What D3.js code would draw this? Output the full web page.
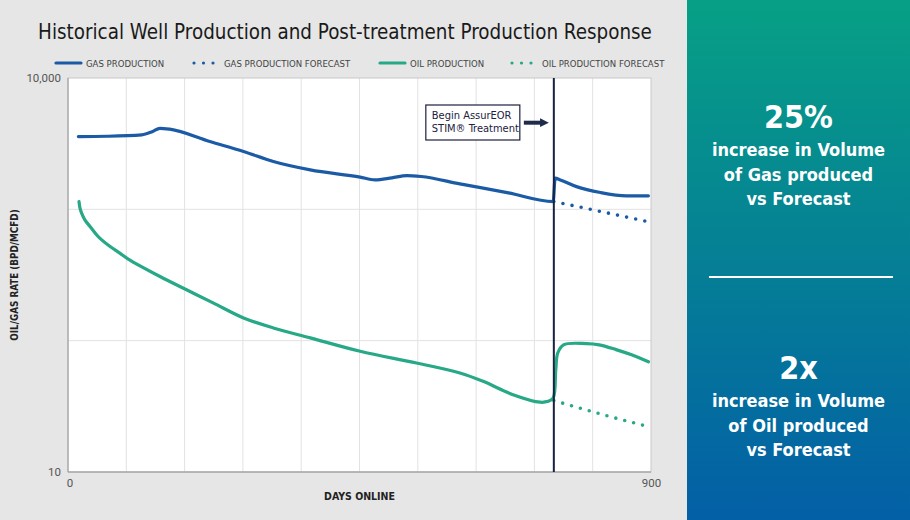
<!DOCTYPE html>
<html><head><meta charset="utf-8">
<script src="https://cdn.jsdelivr.net/npm/d3@7"></script>
<style>
body{margin:0;background:#e6e6e6;}
svg{display:block;}
</style></head>
<body><svg id="c" width="910" height="520"></svg>
<script>
// ---- data ----
const gasDays   = [16, 60, 114, 130, 142, 157, 219, 271, 317, 374, 451, 474, 500, 523, 545, 605, 680, 749, 752, 760, 785, 822, 862, 896];
const gasValues = [3581, 3600, 3690, 3900, 4140, 4075, 3281, 2754, 2312, 1996, 1758, 1675, 1738, 1807, 1778, 1563, 1334, 1146, 1726, 1675, 1489, 1343, 1268, 1268];
const gasForecastDays   = [750, 825, 900];
const gasForecastValues = [1146, 957, 795];
const oilDays   = [17, 18.5, 21, 26, 34, 42, 49, 65, 80, 93, 142, 183, 224, 271, 317, 374, 451, 538, 605, 641, 687, 729, 741, 749, 753, 756, 765, 800, 820, 846, 870, 896];
const oilValues = [1145, 1020, 935, 832, 740, 659, 604, 521, 464, 418, 308, 244, 194, 149, 125, 105, 83, 67.6, 56.8, 49, 38.8, 34, 34.5, 36.6, 60, 80.5, 93, 95, 93, 85.5, 78, 69];
const oilForecastDays   = [750, 825, 900];
const oilForecastValues = [35, 27.4, 21.9];
const treatmentDay = 750;
const xDomain = [0, 900];
const yDomain = [10, 10000];
const xTickValues = [0, 90, 180, 270, 360, 450, 540, 630, 720, 810, 900];
const xTickLabels = ["0", "900"];
const yTickValues = [10, 100, 1000, 10000];
const yTickLabels = ["10", "10,000"];
const legendLabels = ["GAS PRODUCTION", "GAS PRODUCTION FORECAST", "OIL PRODUCTION", "OIL PRODUCTION FORECAST"];
const title = "Historical Well Production and Post-treatment Production Response";
const panelBig = ["25%", "2x"];
const panelLines = [["increase in Volume", "of Gas produced", "vs Forecast"], ["increase in Volume", "of Oil produced", "vs Forecast"]];

// ---- layout ----
const COND = "'DejaVu Sans Condensed','Liberation Sans Narrow',sans-serif";
const ROBO = "Roboto,'Noto Sans',sans-serif";
const GAS = "#1b5ba6", OIL = "#27a886", NAVY = "#1b2140";
const svg = d3.select("#c");
const L = 68, R = 651, T = 78, B = 472;
const x = d3.scaleLinear().domain(xDomain).range([L, R]);
const y = d3.scaleLog().domain(yDomain).range([B, T]);

svg.append("rect").attr("width", 910).attr("height", 520).attr("fill", "#e6e6e6");

// title
svg.append("text").attr("x", 345).attr("y", 39).attr("text-anchor", "middle").style("font-family", COND)
  .attr("font-size", 20.4).attr("fill", "#1a1a1a").text(title);

// plot bg
svg.append("rect").attr("x", L).attr("y", T).attr("width", R - L).attr("height", B - T).attr("fill", "#fff");

// grid
svg.append("g").selectAll("line").data(xTickValues.slice(1, -1)).join("line")
  .attr("x1", d => x(d)).attr("x2", d => x(d)).attr("y1", T).attr("y2", B)
  .attr("stroke", "#e2e2e2").attr("stroke-width", 1);
svg.append("g").selectAll("line").data(yTickValues.slice(1, -1)).join("line")
  .attr("x1", L).attr("x2", R).attr("y1", d => y(d)).attr("y2", d => y(d))
  .attr("stroke", "#e2e2e2").attr("stroke-width", 1);

// frame
svg.append("rect").attr("x", L).attr("y", T).attr("width", R - L).attr("height", B - T)
  .attr("fill", "none").attr("stroke", "#c8c8c8").attr("stroke-width", 1);
svg.append("line").attr("x1", L).attr("x2", L).attr("y1", T).attr("y2", B).attr("stroke", "#a8a8a8").attr("stroke-width", 1.3);
svg.append("line").attr("x1", L).attr("x2", R).attr("y1", B).attr("y2", B).attr("stroke", "#a8a8a8").attr("stroke-width", 1.3);

// axes (labels only)
const yAxis = d3.axisLeft(y).tickValues([yTickValues[0], yTickValues[3]])
  .tickFormat(d => d === 10 ? yTickLabels[0] : yTickLabels[1]).tickSize(0).tickPadding(7);
const yg = svg.append("g").attr("transform", `translate(${L},0)`).call(yAxis);
yg.select(".domain").remove();
yg.selectAll("text").attr("font-size", 11.5).attr("fill", "#555").style("font-family", ROBO);

const xAxis = d3.axisBottom(x).tickValues([xDomain[0], xDomain[1]])
  .tickFormat((d, i) => xTickLabels[i]).tickSize(0).tickPadding(7);
const xg = svg.append("g").attr("transform", `translate(0,${B})`).call(xAxis);
xg.select(".domain").remove();
xg.selectAll("text").attr("font-size", 11.5).attr("fill", "#555").style("font-family", ROBO);
xg.selectAll(".tick").filter(d => d === 0).attr("transform", `translate(${x(0) + 2},0)`);

svg.append("text").attr("x", (L + R) / 2).attr("y", 500).attr("text-anchor", "middle").style("font-family", COND)
  .attr("font-size", 10.5).attr("font-weight", "bold").attr("fill", "#222").text("DAYS ONLINE");
svg.append("text").attr("transform", `translate(18,${(T + B) / 2}) rotate(-90)`).attr("text-anchor", "middle").style("font-family", COND)
  .attr("font-size", 9.8).attr("font-weight", "bold").attr("fill", "#222").text("OIL/GAS RATE (BPD/MCFD)");

// lines
const gasLine = d3.line().x(d => x(d[0])).y(d => y(d[1])).curve(d3.curveMonotoneX);
const oilLine = d3.line().x(d => x(d[0])).y(d => y(d[1])).curve(d3.curveCatmullRom.alpha(0.5));
const zip = (a, b) => a.map((d, i) => [d, b[i]]);
const defs = svg.append("defs");
defs.append("clipPath").attr("id", "pc").append("rect").attr("x", L).attr("y", T).attr("width", R - L).attr("height", B - T);
const pg = svg.append("g").attr("clip-path", "url(#pc)");

pg.append("path").datum(zip(gasForecastDays, gasForecastValues)).attr("d", gasLine)
  .attr("fill", "none").attr("stroke", GAS).attr("stroke-width", 3.6).attr("stroke-linecap", "round").attr("stroke-dasharray", "0 9.3");
pg.append("path").datum(zip(oilForecastDays, oilForecastValues)).attr("d", gasLine)
  .attr("fill", "none").attr("stroke", OIL).attr("stroke-width", 3.6).attr("stroke-linecap", "round").attr("stroke-dasharray", "0 9.2");
pg.append("path").datum(zip(gasDays, gasValues)).attr("d", gasLine)
  .attr("fill", "none").attr("stroke", GAS).attr("stroke-width", 3.2).attr("stroke-linecap", "round");
pg.append("path").datum(zip(oilDays, oilValues)).attr("d", oilLine)
  .attr("fill", "none").attr("stroke", OIL).attr("stroke-width", 3.2).attr("stroke-linecap", "round");

// treatment line
svg.append("line").attr("x1", x(treatmentDay)).attr("x2", x(treatmentDay)).attr("y1", T).attr("y2", B)
  .attr("stroke", NAVY).attr("stroke-width", 2);

// annotation
const ax = x(treatmentDay);
svg.append("rect").attr("x", ax - 128).attr("y", 105).attr("width", 94).attr("height", 35)
  .attr("fill", "#fff").attr("stroke", NAVY).attr("stroke-width", 1.2);
const at = svg.append("text").attr("font-size", 11).attr("fill", NAVY).style("font-family", COND);
at.append("tspan").attr("x", ax - 122).attr("y", 119).text("Begin AssurEOR");
at.append("tspan").attr("x", ax - 122).attr("y", 132).text("STIM® Treatment");
defs.append("marker").attr("id", "ah").attr("viewBox", "0 0 10 10").attr("refX", 2).attr("refY", 5)
  .attr("markerWidth", 2.2).attr("markerHeight", 2.6).attr("orient", "auto")
  .append("path").attr("d", "M0,0L10,5L0,10Z").attr("fill", "#1f2b4a");
svg.append("line").attr("x1", ax - 30).attr("x2", ax - 12).attr("y1", 122.7).attr("y2", 122.7)
  .attr("stroke", "#1f2b4a").attr("stroke-width", 4).attr("marker-end", "url(#ah)");

// legend
const lg = svg.append("g").attr("font-size", 9.5).attr("fill", "#444").style("font-family", COND);
const legendX = [56, 194, 380, 512];
legendLabels.forEach((lab, i) => {
  const c = i < 2 ? GAS : OIL;
  const gx = legendX[i];
  if (i % 2 === 0) {
    lg.append("line").attr("x1", gx).attr("x2", gx + 25).attr("y1", 63).attr("y2", 63)
      .attr("stroke", c).attr("stroke-width", 3.2).attr("stroke-linecap", "round");
  } else {
    lg.append("line").attr("x1", gx).attr("x2", gx + 19.6).attr("y1", 63).attr("y2", 63)
      .attr("stroke", c).attr("stroke-width", 3.2).attr("stroke-linecap", "round").attr("stroke-dasharray", "0 9.5");
  }
  lg.append("text").attr("x", gx + 30).attr("y", 66.5).text(lab);
});

// right panel
const grad = defs.append("linearGradient").attr("id", "pgr").attr("x1", 0).attr("x2", 0).attr("y1", 0).attr("y2", 1);
grad.append("stop").attr("offset", 0).attr("stop-color", "#07a085");
grad.append("stop").attr("offset", 1).attr("stop-color", "#035fa6");
svg.append("rect").attr("x", 687).attr("y", 0).attr("width", 223).attr("height", 520).attr("fill", "url(#pgr)");
const pcx = 798.5;
const pt = svg.append("g").attr("fill", "#fff").attr("text-anchor", "middle").attr("font-weight", "bold").style("font-family", COND);
const bigY = [128, 379], lineY0 = [156, 407];
panelBig.forEach((b, i) => {
  pt.append("text").attr("x", pcx).attr("y", bigY[i]).attr("font-size", 32).text(b);
  panelLines[i].forEach((s, j) => {
    pt.append("text").attr("x", pcx).attr("y", lineY0[i] + j * 24.5).attr("font-size", 18).text(s);
  });
});
svg.append("line").attr("x1", 709).attr("x2", 893).attr("y1", 277).attr("y2", 277).attr("stroke", "#fff").attr("stroke-width", 2);
</script></body></html>
